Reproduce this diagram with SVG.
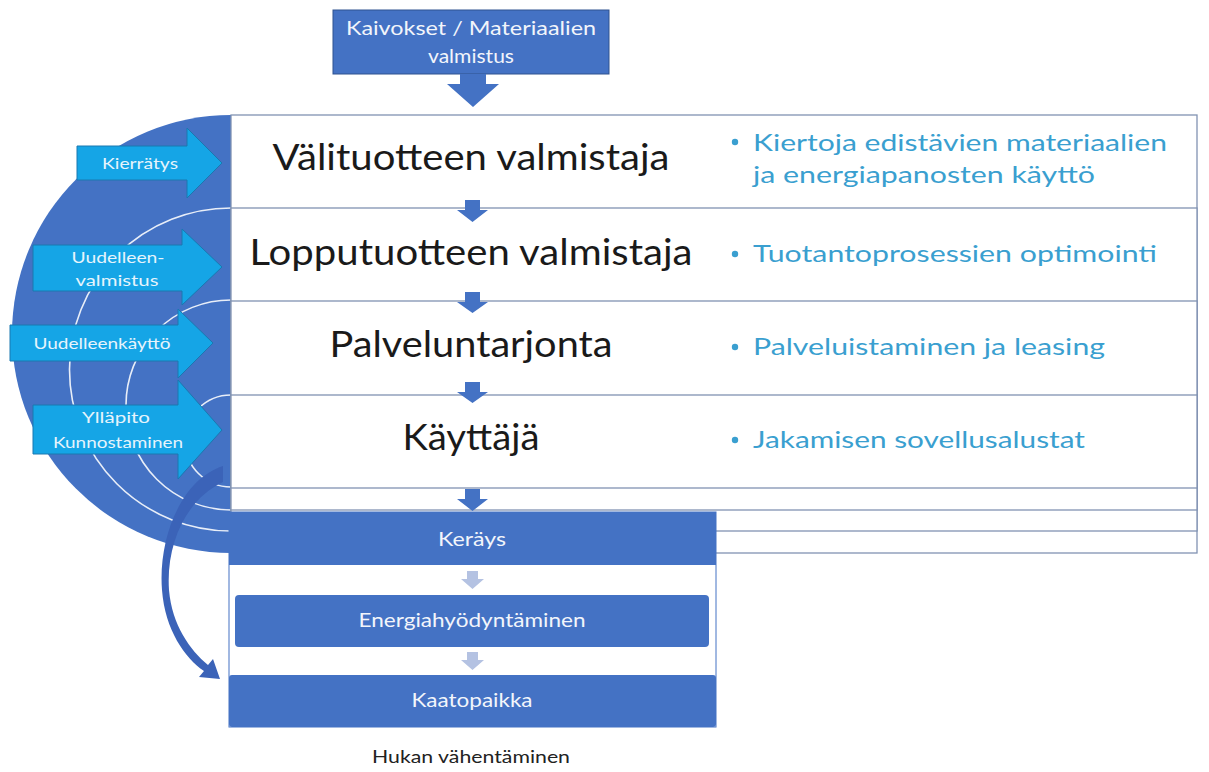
<svg xmlns="http://www.w3.org/2000/svg" width="1209" height="772" viewBox="0 0 1209 772">
<style>
.big{font-family:Lato,"Open Sans","Liberation Sans",sans-serif;font-size:36px;fill:#1a1a1a;text-anchor:middle}
.bul{font-family:Lato,"Open Sans","Liberation Sans",sans-serif;font-size:24px;fill:#3a9fd0}
.arrt{font-family:Lato,"Open Sans","Liberation Sans",sans-serif;font-size:16px;fill:#e6f4fc;text-anchor:middle}
.boxt{font-family:Lato,"Open Sans","Liberation Sans",sans-serif;font-size:20px;fill:#f2f5fb;text-anchor:middle}
.row{fill:#ffffff;stroke:#8193b2;stroke-width:1.3}
.arc{fill:none;stroke:#e8eef8;stroke-width:1.6}
.la{fill:#15a5e6;stroke:#1a78b0;stroke-width:1}
.da{fill:#4472c4}
.lt{fill:#b4c2e2}
.bx{fill:#4472c4}
</style>
<rect width="1209" height="772" fill="#ffffff"/>
<g id="circle">
<circle cx="231" cy="334" r="219" fill="#4472c4"/>
<path class="arc" d="M231 208 A161.5 161.5 0 0 0 231 531"/>
<path class="arc" d="M231 300 A105 105 0 0 0 231 510"/>
<path class="arc" d="M231 395 A46 46 0 0 0 231 487"/>
</g>
<g id="table">
<rect class="row" x="231" y="115" width="966" height="438"/>
<rect class="row" x="231" y="208" width="966" height="323"/>
<rect class="row" x="231" y="301" width="966" height="209"/>
<rect class="row" x="231" y="395" width="966" height="93"/>
</g>
<g id="top-node">
<rect x="333" y="10" width="276" height="64" fill="#4472c4" stroke="#2f528f" stroke-width="1"/>
<text class="boxt" x="471" y="35" textLength="250" lengthAdjust="spacingAndGlyphs">Kaivokset / Materiaalien</text>
<text class="boxt" x="471" y="63" textLength="86" lengthAdjust="spacingAndGlyphs">valmistus</text>
</g>
<g id="row1">
<text class="big" x="471" y="170" textLength="397" lengthAdjust="spacingAndGlyphs">Välituotteen valmistaja</text>
<circle cx="735" cy="142" r="3.2" fill="#3a9fd0"/>
<text class="bul" x="753" y="151" textLength="414" lengthAdjust="spacingAndGlyphs">Kiertoja edistävien materiaalien</text>
<text class="bul" x="753" y="183" textLength="342" lengthAdjust="spacingAndGlyphs">ja energiapanosten käyttö</text>
</g>
<g id="row2">
<text class="big" x="471" y="265" textLength="443" lengthAdjust="spacingAndGlyphs">Lopputuotteen valmistaja</text>
<circle cx="735" cy="254" r="3.2" fill="#3a9fd0"/>
<text class="bul" x="753" y="262" textLength="404" lengthAdjust="spacingAndGlyphs">Tuotantoprosessien optimointi</text>
</g>
<g id="row3">
<text class="big" x="471" y="357" textLength="283" lengthAdjust="spacingAndGlyphs">Palveluntarjonta</text>
<circle cx="735" cy="347" r="3.2" fill="#3a9fd0"/>
<text class="bul" x="753" y="355" textLength="352" lengthAdjust="spacingAndGlyphs">Palveluistaminen ja leasing</text>
</g>
<g id="row4">
<text class="big" x="471" y="450" textLength="137" lengthAdjust="spacingAndGlyphs">Käyttäjä</text>
<circle cx="735" cy="440" r="3.2" fill="#3a9fd0"/>
<text class="bul" x="753" y="448" textLength="332" lengthAdjust="spacingAndGlyphs">Jakamisen sovellusalustat</text>
</g>
<g id="loop-arrows">
<g id="kierratys">
<polygon class="la" points="77,146 187,146 187,128 222,163 187,198 187,180 77,180"/>
<text class="arrt" x="140" y="169" textLength="76" lengthAdjust="spacingAndGlyphs">Kierrätys</text>
</g>
<g id="uudelleenvalmistus">
<polygon class="la" points="33,245 182,245 182,229 222,267 182,305 182,291 33,291"/>
<text class="arrt" x="118" y="263" textLength="93" lengthAdjust="spacingAndGlyphs">Uudelleen-</text>
<text class="arrt" x="117" y="286" textLength="83" lengthAdjust="spacingAndGlyphs">valmistus</text>
</g>
<g id="uudelleenkaytto">
<polygon class="la" points="10,325 178,325 178,309 213,343 178,378 178,361 10,361"/>
<text class="arrt" x="102" y="349" textLength="137" lengthAdjust="spacingAndGlyphs">Uudelleenkäyttö</text>
</g>
<g id="yllapito">
<polygon class="la" points="33,405 178,405 178,380 222,430 178,479 178,454 33,454"/>
<text class="arrt" x="116" y="423" textLength="68" lengthAdjust="spacingAndGlyphs">Ylläpito</text>
<text class="arrt" x="118" y="448" textLength="130" lengthAdjust="spacingAndGlyphs">Kunnostaminen</text>
</g>
</g>
<g id="waste">
<rect x="229" y="512" width="487" height="215" fill="#ffffff" stroke="#4472c4" stroke-width="1"/>
<g id="kerays">
<rect class="bx" x="229" y="512" width="487" height="53"/>
<text class="boxt" x="472" y="546" textLength="68" lengthAdjust="spacingAndGlyphs">Keräys</text>
</g>
<g id="energia">
<rect class="bx" x="235" y="595" width="474" height="52" rx="4"/>
<text class="boxt" x="472" y="627" textLength="227" lengthAdjust="spacingAndGlyphs">Energiahyödyntäminen</text>
</g>
<g id="kaatopaikka">
<rect class="bx" x="229" y="675" width="487" height="52" rx="3"/>
<text class="boxt" x="472" y="707" textLength="121" lengthAdjust="spacingAndGlyphs">Kaatopaikka</text>
</g>
</g>
<g id="connectors">
<polygon class="da" points="460,74 486,74 486,84 499,84 473,107 447,84 460,84"/>
<polygon class="da" points="465,200 480,200 480,210 488,210 472.5,222 457,210 465,210"/>
<polygon class="da" points="465,292 480,292 480,302 488,302 472.5,313 457,302 465,302"/>
<polygon class="da" points="465,382 480,382 480,392 488,392 472.5,403 457,392 465,392"/>
<polygon class="da" points="465,489 480,489 480,499 488,499 472.5,511 457,499 465,499"/>
<polygon class="lt" points="467,571 478,571 478,579 484,579 472.5,589 461,579 467,579"/>
<polygon class="lt" points="467,652 478,652 478,660 484,660 472.5,670 461,660 467,660"/>
<path fill="#3b63b8" d="M223 466 C180 480 158 540 162 590 C165 630 185 658 204 671 L199 677 L220 679 L213 659 L208 665 C190 650 172 625 169 590 C166 545 185 500 223 482 Z"/>
</g>
<g id="footer">
<text x="471" y="763" font-family="Lato,'Open Sans','Liberation Sans',sans-serif" font-size="17" fill="#222" text-anchor="middle" textLength="198" lengthAdjust="spacingAndGlyphs">Hukan vähentäminen</text>
</g>
</svg>
